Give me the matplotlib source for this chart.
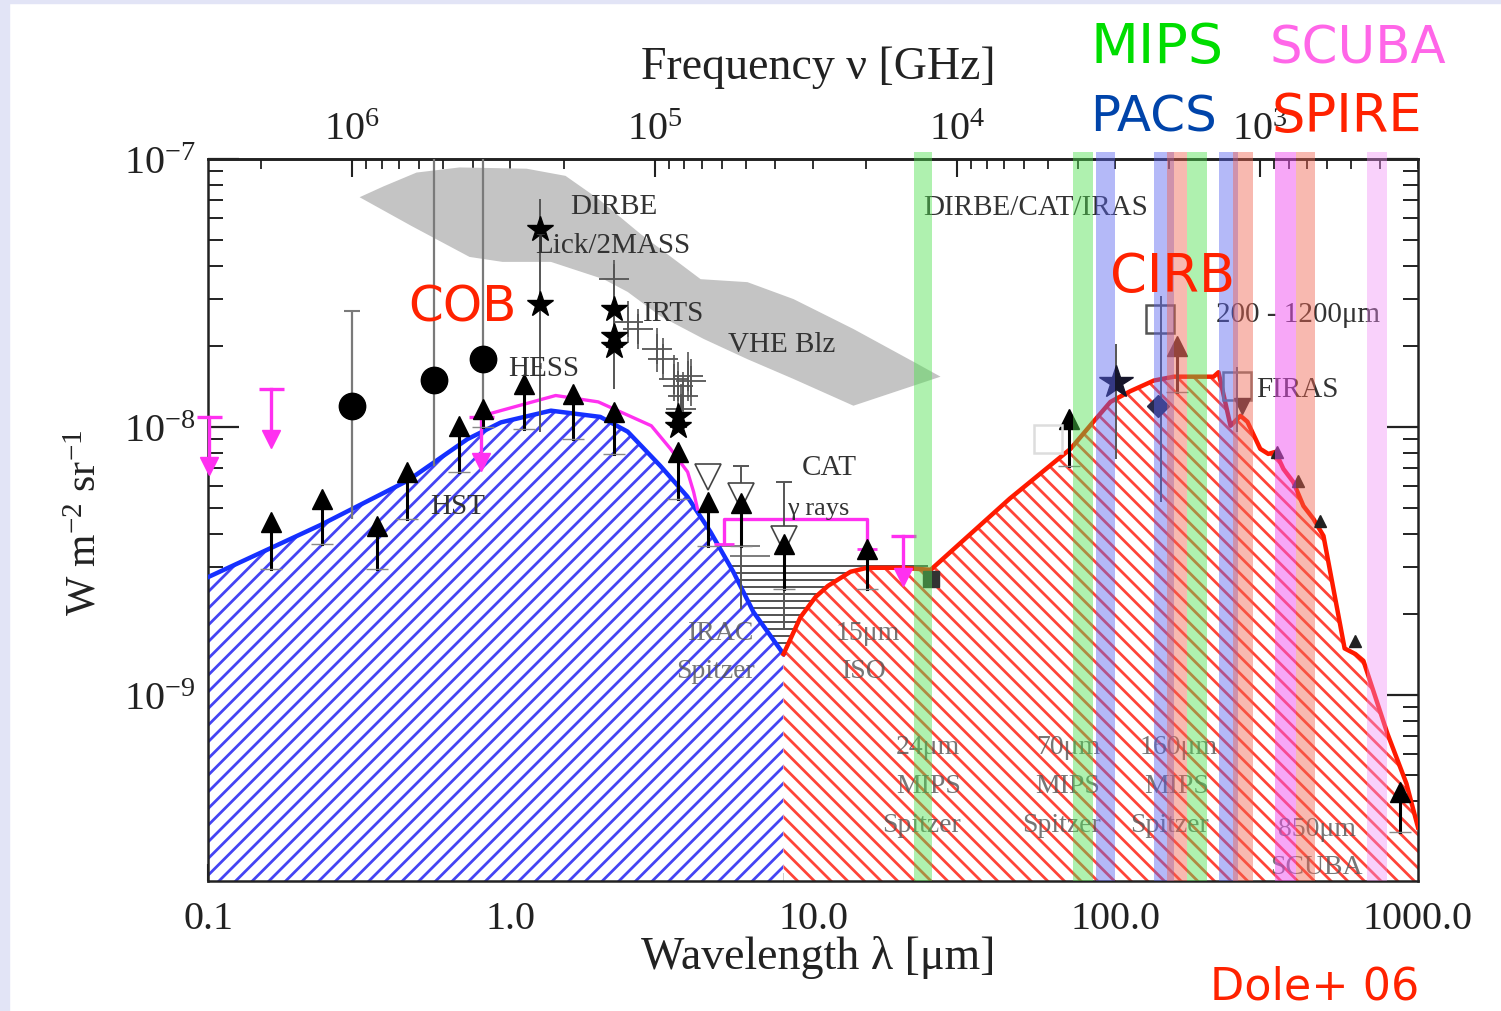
import numpy as np
import matplotlib
matplotlib.use("Agg")
import matplotlib.pyplot as plt
from matplotlib.patches import Rectangle
from matplotlib.ticker import LogLocator, NullFormatter

plt.rcParams['font.family'] = ['Liberation Serif', 'DejaVu Serif']
plt.rcParams['mathtext.default'] = 'regular'
plt.rcParams['hatch.linewidth'] = 2.0

# wavelength in micron, nu I_nu in W m-2 sr-1
cob_lam = [0.1, 0.235, 0.457, 0.72, 0.93, 1.36, 1.98, 2.44, 3.13, 3.84, 4.58, 5.45, 6.35, 7.99]
cob_val = [2.75e-9, 4.3e-9, 6.3e-9, 9.0e-9, 1.04e-8, 1.15e-8, 1.09e-8, 9.6e-9, 7.15e-9,
           5.5e-9, 4.06e-9, 2.88e-9, 2.04e-9, 1.42e-9]

cirb_lam = [7.99, 9.09, 10.2, 11.2, 13.3, 15.1, 19.5, 24.5, 44.7, 71.0, 84.5, 96.2, 112, 134,
            156, 211, 219, 240, 259, 273, 301, 320, 338, 359, 387, 418, 451, 487, 572, 621,
            660, 793, 916, 1000]
cirb_val = [1.42e-9, 1.95e-9, 2.32e-9, 2.55e-9, 2.88e-9, 2.98e-9, 2.98e-9, 2.93e-9, 5.4e-9,
            8.28e-9, 1.045e-8, 1.24e-8, 1.36e-8, 1.49e-8, 1.54e-8, 1.54e-8, 1.60e-8, 1.01e-8,
            1.10e-8, 1.045e-8, 8.28e-9, 7.93e-9, 8.07e-9, 6.97e-9, 6.23e-9, 5.07e-9, 4.54e-9,
            3.92e-9, 1.49e-9, 1.42e-9, 1.34e-9, 7.15e-10, 4.66e-10, 3.2e-10]

# VHE blazar band (grey)
vhe_lam = [0.317, 0.380, 0.489, 0.678, 1.13, 1.52, 1.95, 2.69, 4.25, 6.07, 8.62, 13.6, 21.5,
           26.4, 13.6, 8.62, 6.07, 4.35, 3.13, 2.44, 2.03, 1.36, 0.941, 0.732, 0.471]
vhe_val = [7.2e-8, 7.9e-8, 8.9e-8, 9.3e-8, 9.2e-8, 8.65e-8, 7.1e-8, 5.25e-8, 3.56e-8, 3.47e-8,
           3.0e-8, 2.32e-8, 1.75e-8, 1.54e-8, 1.2e-8, 1.51e-8, 1.79e-8, 2.13e-8, 2.59e-8,
           3.19e-8, 3.56e-8, 4.13e-8, 4.13e-8, 4.31e-8, 5.62e-8]

# HESS / CAT upper limits (magenta)
hess_lam = [0.784, 0.927, 1.41, 1.95, 2.92, 3.38, 3.85, 4.03, 4.15]
hess_val = [1.09e-8, 1.15e-8, 1.31e-8, 1.24e-8, 1.01e-8, 8.28e-9, 6.79e-9, 5.72e-9, 4.94e-9]
cat_lam = [5.06, 5.06, 15.1, 15.1]
cat_val = [3.66e-9, 4.54e-9, 4.54e-9, 3.51e-9]
ul_lam = [0.101, 0.161, 0.80, 19.9]
ul_top = [1.09e-8, 1.39e-8, 1.09e-8, 3.92e-9]
ul_tip = [7.15e-9, 9.02e-9, 7.4e-9, 2.75e-9]

# optical points
circ_lam = [0.30, 0.557, 0.814]
circ_val = [1.20e-8, 1.50e-8, 1.79e-8]
circ_lo = [4.54e-9, 7.15e-9, 1.2e-8]
circ_hi = [2.71e-8, 2e-7, 2e-7]

star_lam = [1.256, 1.256, 2.19, 2.19, 2.19, 3.57, 3.57]
star_val = [5.48e-8, 2.88e-8, 2.76e-8, 2.19e-8, 2.01e-8, 1.10e-8, 1.01e-8]

irts_lam = [2.19, 2.44, 2.63, 3.06, 3.18, 3.46, 3.57, 3.85, 3.94, 3.73, 3.65]
irts_val = [3.57e-8, 2.47e-8, 2.32e-8, 1.95e-8, 1.79e-8, 1.51e-8, 1.42e-8, 1.55e-8, 1.49e-8,
            1.31e-8, 1.17e-8]
irts_lo = [3.0e-8, 2.05e-8, 1.95e-8, 1.6e-8, 1.5e-8, 1.25e-8, 1.15e-8, 1.25e-8, 1.2e-8,
           1.05e-8, 9.5e-9]
irts_hi = [4.2e-8, 2.95e-8, 2.75e-8, 2.35e-8, 2.15e-8, 1.85e-8, 1.75e-8, 1.9e-8, 1.8e-8,
           1.6e-8, 1.45e-8]

eb_lam = [1.256, 2.19, 5.76, 7.99, 100, 140.9, 253]
eb_lo = [9.58e-9, 1.39e-8, 2.09e-9, 1.76e-9, 7.6e-9, 5.25e-9, 9.58e-9]
eb_hi = [7.10e-8, 3.99e-8, 7.15e-9, 6.23e-9, 2.04e-8, 3.08e-8, 1.67e-8]

lim_lam = [0.161, 0.239, 0.363, 0.456, 0.673, 0.814, 1.104, 1.615, 2.19, 3.57, 4.48, 5.76,
           7.99, 15.1, 70.0, 160.3, 869]
lim_tip = [4.42e-9, 5.39e-9, 4.27e-9, 6.79e-9, 1.01e-8, 1.17e-8, 1.45e-8, 1.33e-8, 1.14e-8,
           8.07e-9, 5.25e-9, 5.2e-9, 3.66e-9, 3.51e-9, 1.07e-8, 2.01e-8, 4.35e-10]
lim_bot = [2.95e-9, 3.66e-9, 2.95e-9, 4.54e-9, 6.79e-9, 1.0e-8, 9.84e-9, 9.02e-9, 7.93e-9,
           5.39e-9, 3.60e-9, 3.60e-9, 2.49e-9, 2.49e-9, 7.15e-9, 1.35e-8, 3.08e-10]

dtri_lam = [4.48, 5.76, 7.99]
dtri_val = [6.51e-9, 5.53e-9, 3.82e-9]

osq_lam = [140, 253, 59.6]
osq_val = [2.53e-8, 1.42e-8, 9.02e-9]
osq_col = ['#555555', '#777777', '#dddddd']

firas_lam = [343, 400, 476, 621]
firas_val = [8.07e-9, 6.3e-9, 4.46e-9, 1.59e-9]

cat_hl_val = [3.03e-9, 2.85e-9, 2.69e-9, 2.53e-9, 2.38e-9, 2.24e-9, 2.11e-9, 1.99e-9,
              1.87e-9, 1.76e-9, 1.66e-9, 1.56e-9]

# instrument bands (lo, hi wavelength)
band_lo = [21.5, 72.6, 85.9, 133.6, 147.5, 171.7, 220.6, 243.8, 338, 393.6, 676]
band_hi = [24.8, 84.0, 99.3, 155.6, 171.7, 200, 255, 283.8, 393.6, 458, 787]
band_col = ['#4ee04e', '#4ee04e', '#5a64f0', '#5a64f0', '#f06450', '#4ee04e', '#5a64f0',
            '#f06450', '#f050f0', '#f06450', '#f08cf5']
band_alpha = [0.45, 0.45, 0.45, 0.45, 0.45, 0.45, 0.45, 0.45, 0.5, 0.45, 0.4]


def lam2nu(x):
    x = np.asarray(x, dtype=float)
    with np.errstate(divide='ignore'):
        return 2.998e5 / x


fig = plt.figure(figsize=(15.01, 10.12), dpi=100)
fig.patches.append(Rectangle((0, 0), 9 / 1501, 1, transform=fig.transFigure,
                             color='#e2e4f6', zorder=0))
fig.patches.append(Rectangle((0, 1 - 4 / 1012), 1, 4 / 1012, transform=fig.transFigure,
                             color='#e2e4f6', zorder=0))

ax = fig.add_axes([0.1386, 0.1285, 0.8061, 0.7134])
ax.set_xscale('log')
ax.set_yscale('log')
ax.set_xlim(0.1, 1000)
ax.set_ylim(2.02e-10, 1e-7)

ax.fill(vhe_lam, vhe_val, color='#c4c4c4', lw=0, zorder=1)
ax.hlines(cat_hl_val, 4.8, 24, color='#444444', lw=1.3, zorder=1.5)
ax.hlines([3.60e-9, 3.30e-9], [4.8, 5.3], [6.7, 7.2], color='#666666', lw=1.2, zorder=1.5)

ax.fill_between(cob_lam, cob_val, 1e-11, facecolor='white', edgecolor='#4444f4',
                hatch='//', linewidth=0, zorder=2)
ax.fill_between(cirb_lam, cirb_val, 1e-11, facecolor='white', edgecolor='#ff4438',
                hatch='\\\\', linewidth=0, zorder=2)
ax.plot(cob_lam, cob_val, color='#1530ff', lw=3.2, zorder=3)
ax.plot(cirb_lam, cirb_val, color='#ff1a00', lw=3.2, zorder=3)

# magenta upper limits
mag = '#ff30f0'
ax.plot(hess_lam, hess_val, color=mag, lw=2.4, zorder=4)
ax.plot(cat_lam, cat_val, color=mag, lw=2.4, zorder=4)
ax.plot([cat_lam[0], cat_lam[-1]], [cat_val[0], cat_val[-1]], ls='none', marker='_',
        ms=14, mew=2, color=mag, zorder=4)
for lam, top, tip in zip(ul_lam, ul_top, ul_tip):
    ax.plot([lam, lam], [top, tip], color=mag, lw=2.4, zorder=4, clip_on=False)
    ax.plot(lam, top, marker='_', ms=18, mew=2.4, color=mag, zorder=4, clip_on=False)
    ax.plot(lam, tip, marker='v', ms=13, color=mag, zorder=4, clip_on=False)

# data points
ax.vlines(circ_lam, circ_lo, circ_hi, color='#7a7a7a', lw=1.6, zorder=4)
ax.plot(circ_lam[0], circ_hi[0], marker='_', ms=12, mew=1.5, color='#7a7a7a', zorder=4)
ax.plot(circ_lam, circ_val, 'o', ms=19, color='black', zorder=5)
ax.vlines(eb_lam, eb_lo, eb_hi, color='#555555', lw=1.4, zorder=4)
ax.plot(eb_lam[2:4], eb_hi[2:4], ls='none', marker='_', ms=12, mew=1.4, color='#555555',
        zorder=4)
ax.errorbar(irts_lam, irts_val,
            yerr=[np.subtract(irts_val, irts_lo), np.subtract(irts_hi, irts_val)],
            fmt='+', ms=22, mew=1.3, color='#555555', elinewidth=1.2, zorder=4)
ax.plot(star_lam, star_val, '*', ms=19, color='black', zorder=5)
ax.plot(100, 1.47e-8, '*', ms=25, color='#15152a', zorder=5)
ax.plot(dtri_lam, dtri_val, 'v', ms=19, mfc='white', mec='#444444', mew=1.2, zorder=5)
for lam, tip, bot in zip(lim_lam, lim_tip, lim_bot):
    c = '#4a2a2a' if lam > 100 and lam < 200 else 'black'
    ax.plot([lam, lam], [bot, tip], color=c, lw=2.2, zorder=5)
    ax.plot(lam, tip, marker='^', ms=14, color=c, zorder=5)
    ax.plot(lam, bot, marker='_', ms=16, mew=1, color='#888888', zorder=5)
for lam, val, c in zip(osq_lam, osq_val, osq_col):
    ax.plot(lam, val, 's', ms=20, mfc='none', mec=c, mew=1.8, zorder=5)
ax.plot(24.5, 2.71e-9, 's', ms=12, color='#333333', zorder=5)
ax.plot(138.6, 1.20e-8, 'D', ms=11, color='#2a2a4a', zorder=5)
ax.plot(262, 1.2e-8, 'v', ms=11, color='#3a2a3a', zorder=5)
ax.plot(firas_lam, firas_val, '^', ms=8, color='#222222', zorder=5)

# labels inside plot
tc = '#333333'
for s, x, y, fs in [('DIRBE', 0.299, 0.935, 21), ('Lick/2MASS', 0.270, 0.881, 21),
                    ('IRTS', 0.3595, 0.786, 21), ('VHE Blz', 0.430, 0.744, 21),
                    ('HESS', 0.248, 0.7105, 21), ('HST', 0.1835, 0.519, 21),
                    ('CAT', 0.491, 0.573, 21), ('γ rays', 0.4785, 0.5166, 19),
                    ('DIRBE/CAT/IRAS', 0.591, 0.9335, 21),
                    ('200 - 1200μm', 0.833, 0.785, 21), ('FIRAS', 0.866, 0.681, 21)]:
    ax.text(x, y, s, transform=ax.transAxes, fontsize=fs, color=tc, ha='left',
            va='center', zorder=6)
fc = '#555555'
for s, x, y in [('IRAC', 0.397, 0.3435), ('Spitzer', 0.387, 0.291),
                ('15μm', 0.519, 0.3435), ('ISO', 0.524, 0.291),
                ('24μm', 0.5686, 0.1856), ('MIPS', 0.5686, 0.1316), ('Spitzer', 0.557, 0.0776),
                ('70μm', 0.684, 0.1856), ('MIPS', 0.684, 0.1316), ('Spitzer', 0.6727, 0.0776),
                ('160μm', 0.770, 0.1856), ('MIPS', 0.7736, 0.1316), ('Spitzer', 0.762, 0.0776),
                ('850μm', 0.884, 0.072), ('SCUBA', 0.8777, 0.0194)]:
    ax.text(x, y, s, transform=ax.transAxes, fontsize=20, color=fc, alpha=0.8,
            ha='left', va='center', zorder=6)

# instrument bands on top
for lo, hi, c, a in zip(band_lo, band_hi, band_col, band_alpha):
    ax.axvspan(lo, hi, ymin=0, ymax=1.01, color=c, alpha=a, lw=0, zorder=10, clip_on=False)

# axes styling
for sp in ax.spines.values():
    sp.set_linewidth(1.8)
    sp.set_color('#222222')
ax.set_xticks([0.1, 1, 10, 100, 1000])
ax.set_xticklabels(['0.1', '1.0', '10.0', '100.0', '1000.0'])
ax.xaxis.set_minor_formatter(NullFormatter())
ax.set_yticks([1e-9, 1e-8, 1e-7])
ax.set_yticklabels(['10$^{-9}$', '10$^{-8}$', '10$^{-7}$'])
ax.yaxis.set_minor_locator(LogLocator(subs=np.arange(2, 10)))
ax.yaxis.set_minor_formatter(NullFormatter())
ax.tick_params(axis='x', which='both', top=False, bottom=True, direction='in',
               labelsize=29, pad=14, colors='#222222')
ax.tick_params(axis='x', which='major', length=12, width=1.5)
ax.tick_params(axis='x', which='minor', length=6, width=1.3)
ax.tick_params(axis='y', which='both', left=True, right=True, direction='in',
               labelsize=29, pad=9, colors='#222222')
ax.tick_params(axis='y', which='major', length=22, width=1.6)
ax.tick_params(axis='y', which='minor', length=11, width=1.4)

secax = ax.secondary_xaxis('top', functions=(lam2nu, lam2nu))
secax.set_xticks([1e3, 1e4, 1e5, 1e6])
secax.set_xticklabels(['10$^{3}$', '10$^{4}$', '10$^{5}$', '10$^{6}$'])
secax.xaxis.set_minor_locator(LogLocator(subs=np.arange(2, 10)))
secax.xaxis.set_minor_formatter(NullFormatter())
secax.tick_params(which='both', direction='in', labelsize=29, pad=8, colors='#222222')
secax.tick_params(which='major', length=13, width=1.5)
secax.tick_params(which='minor', length=7, width=1.3)
secax.spines['top'].set_linewidth(1.8)

fig.text(0.545, 0.0534, 'Wavelength λ [μm]', fontsize=33, color='#222222',
         ha='center', va='center')
fig.text(0.545, 0.933, 'Frequency ν [GHz]', fontsize=33, color='#222222',
         ha='center', va='center')
fig.text(0.0566, 0.483, 'W m$^{-2}$ sr$^{-1}$', fontsize=30, color='#222222',
         rotation=90, ha='center', va='center')

# slide annotations
sans = ['DejaVu Sans']
fig.text(0.2718, 0.682, 'COB', fontsize=36, color='#ff2200', family=sans)
fig.text(0.7395, 0.7115, 'CIRB', fontsize=38, color='#ff2200', family=sans)
fig.text(0.7262, 0.9377, 'MIPS', fontsize=40, color='#00dd00', family=sans)
fig.text(0.846, 0.9377, 'SCUBA', fontsize=37, color='#ff66e8', family=sans)
fig.text(0.7262, 0.8696, 'PACS', fontsize=36, color='#0044aa', family=sans)
fig.text(0.8474, 0.8696, 'SPIRE', fontsize=38, color='#ff2200', family=sans)
fig.text(0.806, 0.012, 'Dole+ 06', fontsize=32, color='#ff2200', family=sans)

fig.savefig('out.png', dpi=100)
